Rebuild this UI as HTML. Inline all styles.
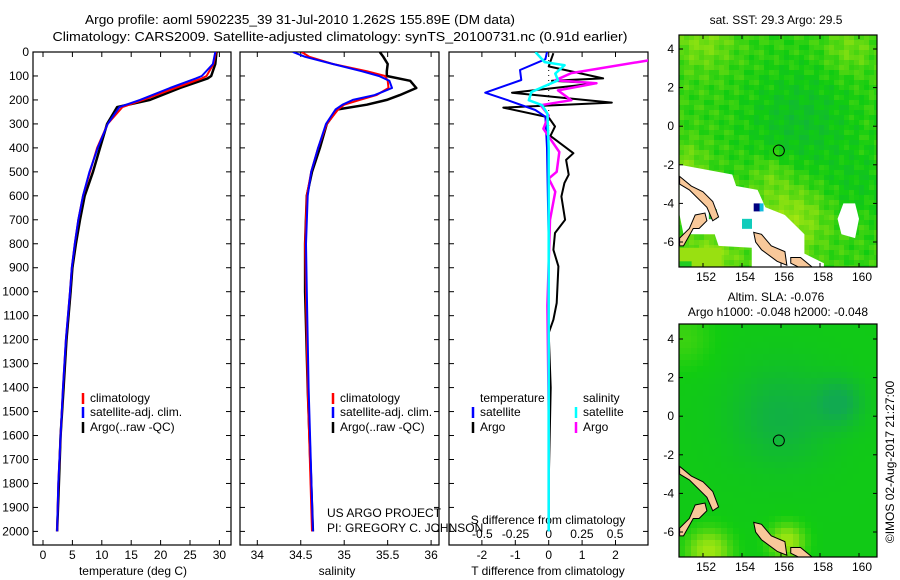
<!DOCTYPE html>
<html><head><meta charset="utf-8">
<style>
html,body{margin:0;padding:0;background:#fff;}
svg{display:block;font-family:"Liberation Sans",sans-serif;}
text{font-size:12px;fill:#000;}
</style></head>
<body>
<svg id="fig" width="900" height="580" viewBox="0 0 900 580" xmlns="http://www.w3.org/2000/svg">
<text x="300" y="24" text-anchor="middle" style="font-size:13px" textLength="430" lengthAdjust="spacingAndGlyphs">Argo profile: aoml 5902235_39 31-Jul-2010 1.262S 155.89E (DM data)</text>
<text x="340" y="41" text-anchor="middle" style="font-size:13px" textLength="575" lengthAdjust="spacingAndGlyphs">Climatology: CARS2009. Satellite-adjusted climatology: synTS_20100731.nc (0.91d earlier)</text>
<g id="maps"></g>
<g id="plots"></g>
</svg>
<script>
// ---- data ----
const tDepth = [0,50,100,110,150,200,230,300,400,500,600,700,800,900,1000,1200,1400,1600,1800,2000];
const tArgo  = [29.5,29.3,28.6,28.0,23.3,18.2,12.6,10.9,9.7,8.5,7.1,6.3,5.6,5.0,4.7,4.0,3.5,3.0,2.7,2.4];
const tClim  = [29.4,29.0,27.8,27.0,22.5,17.0,13.5,11.0,9.2,8.0,6.8,6.0,5.4,4.9,4.6,3.9,3.4,3.0,2.6,2.4];
const tSat   = [29.3,28.9,27.0,26.0,21.6,16.5,13.0,11.0,9.3,7.9,6.8,6.0,5.4,4.9,4.6,3.9,3.4,3.0,2.6,2.4];
const sDepth = [0,20,50,80,100,120,150,180,200,220,240,300,400,500,600,800,1000,1400,2000];
const sArgo  = [35.41,35.45,35.50,35.49,35.49,35.76,35.83,35.64,35.49,35.26,34.92,34.80,34.72,34.63,34.57,34.55,34.55,34.58,34.64];
const sClim  = [34.51,34.60,34.87,35.26,35.47,35.50,35.51,35.37,35.18,35.00,34.93,34.80,34.70,34.62,34.57,34.55,34.56,34.58,34.63];
const sSat   = [34.41,34.55,34.87,35.20,35.40,35.52,35.55,35.35,35.10,34.98,34.90,34.79,34.70,34.62,34.58,34.56,34.57,34.59,34.64];
const dtArgoDepth = [5,40,60,110,120,130,170,211,232,273,311,350,422,450,512,547,603,700,755,825,894,1047,1117,1172,1400,1600,1800,2000];
const dtArgo      = [0.14,0.05,0.0,1.63,0.1,1.43,-1.1,1.89,-1.36,0,0.19,0.05,0.74,0.52,0.6,0.47,0.38,0.49,0.19,0.14,0.29,0.24,0.14,0.0,0.06,0.03,0.0,0.0];
const dtSatDepth  = [0,30,75,117,170,200,242,270,400,800,1200,2000];
const dtSat       = [-0.05,-0.1,-0.86,-0.82,-1.9,-1.25,-0.4,-0.1,-0.05,0,0,0];
const dsSatDepth  = [0,42,55,90,118,167,201,222,257,400,1000,2000];
const dsSat       = [-0.10,-0.03,0.12,0.05,0.07,-0.13,-0.15,-0.05,-0.01,0,0,0];
const dsArgoDepth = [25,36,88,118,130,160,201,222,265,320,417,500,528,583,700,1058,1500,2000];
const dsArgo      = [0.95,0.74,0.17,0.05,0.36,0.07,0.17,-0.06,0,-0.04,0.08,0.06,0,0.05,0.01,-0.01,0,0];
const depthTicks = [0,100,200,300,400,500,600,700,800,900,1000,1100,1200,1300,1400,1500,1600,1700,1800,1900,2000];
const tTicks = [0,5,10,15,20,25,30];
const sTicks = ["34","34.5","35","35.5","36"];
const dtTicks = [-2,-1,0,1,2];
const dsTicks = ["-0.5","-0.25","0","0.25","0.5"];
const latTicks = [4,2,0,-2,-4,-6];
const lonTicks = [152,154,156,158,160];
const argoLon = 155.89, argoLat = -1.262;

const NS="http://www.w3.org/2000/svg";
function mk(tag, attrs, parent){const e=document.createElementNS(NS,tag);for(const k in attrs)e.setAttribute(k,attrs[k]);parent.appendChild(e);return e;}
const plots=document.getElementById('plots');
const Y=d=>52+d*0.2397;
const panels=[
 {x0:33,x1:231,sx:v=>43+v*5.88,name:'temperature-panel'},
 {x0:240,x1:439,sx:v=>257.3+(v-34)*86.9,name:'salinity-panel'},
 {x0:449,x1:648,sx:v=>548.7+v*33.4,name:'difference-panel'}];
const TOP=52, BOT=545;
panels.forEach((p,i)=>{
  const g=mk('g',{},plots);
  
  
  mk('clipPath',{id:'c'+i},g);
  mk('rect',{x:p.x0,y:TOP,width:p.x1-p.x0,height:BOT-TOP},g.lastChild);
  const fr=mk('rect',{x:p.x0,y:TOP,width:p.x1-p.x0,height:BOT-TOP,fill:'none',stroke:'#000','stroke-width':1.2},g);
  
  
  depthTicks.forEach(d=>{
    mk('line',{x1:p.x0,x2:p.x0+5,y1:Y(d),y2:Y(d),stroke:'#000'},g);
    mk('line',{x1:p.x1,x2:p.x1-5,y1:Y(d),y2:Y(d),stroke:'#000'},g);
  });
});
depthTicks.forEach(d=>{
  const t=mk('text',{x:29,y:Y(d)+4,'text-anchor':'end'},plots);t.textContent=d;
  
  
});
function xt(p,vals,labels,yl,sx){
  vals.forEach((v,j)=>{
    const x=sx(v);
    mk('line',{x1:x,x2:x,y1:BOT,y2:BOT-5,stroke:'#000'},plots);
    mk('line',{x1:x,x2:x,y1:TOP,y2:TOP+5,stroke:'#000'},plots);
    const t=mk('text',{x:x,y:yl,'text-anchor':'middle'},plots);t.textContent=labels[j];
    
    
  });
}
xt(0,tTicks,tTicks,559,panels[0].sx);
xt(1,sTicks.map(Number),sTicks,559,panels[1].sx);
xt(2,dtTicks,dtTicks,559,panels[2].sx);
dsTicks.forEach(s=>{const x=548.7+Number(s)*132.8;const t=mk('text',{x:x,y:538,'text-anchor':'middle'},plots);t.textContent=s;
  
  });
function title(x,y,s,n){const t=mk('text',{x:x,y:y,'text-anchor':'middle'},plots);t.textContent=s;
  
  return t;}
title(133,575,'temperature (deg C)','x-axis-title-temperature');
title(337,575,'salinity','x-axis-title-salinity');
title(548,575,'T difference from climatology','x-axis-title-t-diff');
title(548,524,'S difference from climatology','s-diff-axis-title');
const u1=mk('text',{x:327,y:517},plots);u1.textContent='US ARGO PROJECT';


const u2=mk('text',{x:327,y:532},plots);u2.textContent='PI: GREGORY C. JOHNSON';


mk('line',{x1:548.7,x2:548.7,y1:60,y2:245,stroke:'#000','stroke-dasharray':'1,4'},plots);
function line(depths,vals,sx,color,w,clip,name){
  const pts=depths.map((d,j)=>sx(vals[j]).toFixed(1)+','+Y(d).toFixed(1)).join(' ');
  const pl=mk('polyline',{points:pts,fill:'none',stroke:color,'stroke-width':w,'clip-path':'url(#c'+clip+')','stroke-linejoin':'round'},plots);
  
  
}
line(tDepth,tArgo,panels[0].sx,'#000',2.5,0,'temp-argo-line');
line(tDepth,tClim,panels[0].sx,'#f00',2,0,'temp-clim-line');
line(tDepth,tSat,panels[0].sx,'#00f',2,0,'temp-sat-line');
line(sDepth,sArgo,panels[1].sx,'#000',2.5,1,'sal-argo-line');
line(sDepth,sClim,panels[1].sx,'#f00',2,1,'sal-clim-line');
line(sDepth,sSat,panels[1].sx,'#00f',2,1,'sal-sat-line');
const dsx=v=>548.7+v*132.8;
line(dtArgoDepth,dtArgo,panels[2].sx,'#000',2,2,'tdiff-argo-line');
line(dtSatDepth,dtSat,panels[2].sx,'#00f',2,2,'tdiff-sat-line');
line(dsArgoDepth,dsArgo,dsx,'#f0f',2.5,2,'sdiff-argo-line');
line(dsSatDepth,dsSat,dsx,'#0ff',2.5,2,'sdiff-sat-line');
function leg(x,y,c,s){mk('line',{x1:x,x2:x,y1:y-9,y2:y+2,stroke:c,'stroke-width':2.5},plots);
  const t=mk('text',{x:x+7,y:y},plots);t.textContent=s;
  
  }
[83,333].forEach(x=>{
  leg(x,402,'#f00','climatology');leg(x,416,'#00f','satellite-adj. clim.');leg(x,431,'#000','Argo(..raw -QC)');
});
const l1=mk('text',{x:480,y:402},plots);l1.textContent='temperature';


const l2=mk('text',{x:583,y:402},plots);l2.textContent='salinity';


leg(473,416,'#00f','satellite');leg(473,431,'#000','Argo');
leg(576,416,'#0ff','satellite');leg(576,431,'#f0f','Argo');

// ---- maps ----
const maps=document.getElementById('maps');
const MX=lon=>703+(lon-152)*19.5;
const stops=[[0,[204,240,17]],[0.35,[120,221,17]],[0.65,[17,204,17]],[1,[17,170,80]]];
function col(v){v=Math.max(0,Math.min(1,v));for(let i=1;i<stops.length;i++){if(v<=stops[i][0]){const a=stops[i-1],b=stops[i];const f=(v-a[0])/(b[0]-a[0]);
  return 'rgb('+a[1].map((c,k)=>Math.round(c+(b[1][k]-c)*f)).join(',')+')';}}return 'rgb(17,170,80)';}
function gauss(lon,lat,cl,ct,s){const d=((lon-cl)**2+(lat-ct)**2)/(s*s);return Math.exp(-d);}
function sstField(lon,lat){
  let v=0.55+0.22*gauss(lon,lat,157,0.3,2.8)+0.12*gauss(lon,lat,160,-3,1.8);
  v-=0.3*gauss(lon,lat,156.5,-4.8,1.8)+0.22*gauss(lon,lat,152,4.5,1.6)+0.2*gauss(lon,lat,151,-2,1.2)+0.18*gauss(lon,lat,159.5,4,1.3)+0.25*gauss(lon,lat,152.5,-6.8,1.5)+0.15*gauss(lon,lat,155.5,-2.5,1);
  v+=0.1*Math.sin(lon*5.1+lat*3.3)*Math.cos(lat*4.7-lon*2.1);
  return v;}
function slaField(lon,lat){
  let v=0.68+0.25*gauss(lon,lat,156,0,2.5)+0.3*gauss(lon,lat,159,0.7,1.2);
  v-=0.5*gauss(lon,lat,152.3,-7,1.1)+0.5*gauss(lon,lat,156.3,-6.5,0.9)+0.15*gauss(lon,lat,151,4,1.5);
  return v;}
function drawMap(top,bottom,lat4y,kind){
  const MY=lat=>lat4y+(4-lat)*19.3;
  const g=mk('g',{},maps);
  
  
  const id='m'+kind;
  const defs=mk('defs',{},g);
  const cp=mk('clipPath',{id:id},defs);mk('rect',{x:679,y:top,width:198,height:bottom-top},cp);
  const inner=mk('g',{'clip-path':'url(#'+id+')'},g);
  const cs=kind==='sst'?5:6;
  for(let y=top;y<bottom;y+=cs){for(let x=679;x<877;x+=cs){
    const lon=152+(x+cs/2-703)/19.5, lat=4-(y+cs/2-lat4y)/19.3;
    mk('rect',{x:x,y:y,width:cs+0.5,height:cs+0.5,fill:col(kind==='sst'?sstField(lon,lat):slaField(lon,lat))},inner);
  }}
  if(kind==='sst'){
    mk('polygon',{points:[[150.8,-2],[153.5,-2.5],[153.7,-3.1],[154.8,-3.3],[155.2,-4.2],[156.2,-4.6],[157.2,-5.6],[157.2,-6.6],[158.2,-7.1],[158.2,-7.5],[154.5,-7.5],[154.5,-6.3],[152.8,-6.2],[152.6,-5.6],[151,-5.6],[150.8,-4.6]].map(p=>MX(p[0])+','+MY(p[1])).join(' '),fill:'#fff'},inner);
    mk('polygon',{points:[[159.2,-4],[159.8,-4],[160,-4.8],[159.8,-5.8],[159.1,-5.6],[158.9,-4.8]].map(p=>MX(p[0])+','+MY(p[1])).join(' '),fill:'#fff'},inner);
    mk('rect',{x:MX(150.8),y:MY(-6.3),width:42,height:60,fill:'#99e011'},inner);
    mk('rect',{x:MX(150.8),y:MY(-7),width:12,height:20,fill:'#22cc22'},inner);
    mk('rect',{x:MX(154.6),y:MY(-4),width:7,height:8,fill:'#000080'},inner);
    mk('rect',{x:MX(154.9),y:MY(-4),width:4,height:8,fill:'#11bbdd'},inner);
    mk('rect',{x:MX(154),y:MY(-4.8),width:10,height:10,fill:'#11ccbb'},inner);
    mk('rect',{x:MX(152.3),y:MY(-4.3),width:8,height:10,fill:'#22bb33'},inner);
  }
  const isl=[[[150.8,-2.6],[151.4,-3.1],[152,-3.4],[152.5,-3.9],[152.8,-4.7],[152.5,-4.9],[152.2,-4.2],[151.3,-3.3],[150.8,-3]],
             [[150.8,-5.8],[151.3,-5.3],[151.6,-4.6],[152.1,-4.5],[152.2,-4.9],[151.8,-5.3],[151.5,-5.3],[151,-6.2],[150.8,-6.2]],
             [[154.6,-5.5],[155,-5.6],[155.5,-6.2],[156.2,-6.5],[156.3,-7.2],[155.8,-7],[155,-6.4],[154.7,-6]],
             [[156.5,-6.8],[157,-6.8],[157.6,-7.3],[157.1,-7.4],[156.5,-7.1]]];
  isl.forEach(s=>{const pg=mk('polygon',{points:s.map(p=>MX(p[0])+','+MY(p[1])).join(' '),fill:'#f8c89a',stroke:'#000','stroke-width':1},inner);
    
    });
  mk('rect',{x:679,y:top,width:198,height:bottom-top,fill:'none',stroke:'#000','stroke-width':1.2},g);
  const c=mk('circle',{cx:MX(argoLon),cy:MY(argoLat),r:5.5,fill:'none',stroke:'#000','stroke-width':1},g);
  
  
  latTicks.forEach(l=>{const y=MY(l);mk('line',{x1:679,x2:683,y1:y,y2:y,stroke:'#000'},g);mk('line',{x1:877,x2:873,y1:y,y2:y,stroke:'#000'},g);
    const t=mk('text',{x:674,y:y+4,'text-anchor':'end'},g);t.textContent=l;
    
    });
  lonTicks.forEach(l=>{const x=MX(l);mk('line',{x1:x,x2:x,y1:top,y2:top+4,stroke:'#000'},g);mk('line',{x1:x,x2:x,y1:bottom,y2:bottom-4,stroke:'#000'},g);
    const t=mk('text',{x:x+3,y:bottom+14,'text-anchor':'middle'},g);t.textContent=l;
    
    });
}
drawMap(35,267,49,'sst');
drawMap(324,557,339,'sla');
function mt(x,y,s,n){const t=mk('text',{x:x,y:y,'text-anchor':'middle'},maps);t.textContent=s;
  
  }
mt(776,24,'sat. SST: 29.3 Argo: 29.5','sst-map-title');
mt(776,301,'Altim. SLA: -0.076','sla-map-title');
mt(778,316,'Argo h1000: -0.048 h2000: -0.048','sla-map-subtitle');
const im=mk('text',{x:0,y:0,'text-anchor':'middle',transform:'translate(894,462) rotate(-90)'},maps);
im.textContent='©IMOS 02-Aug-2017 21:27:00';


</script>
</body></html>
